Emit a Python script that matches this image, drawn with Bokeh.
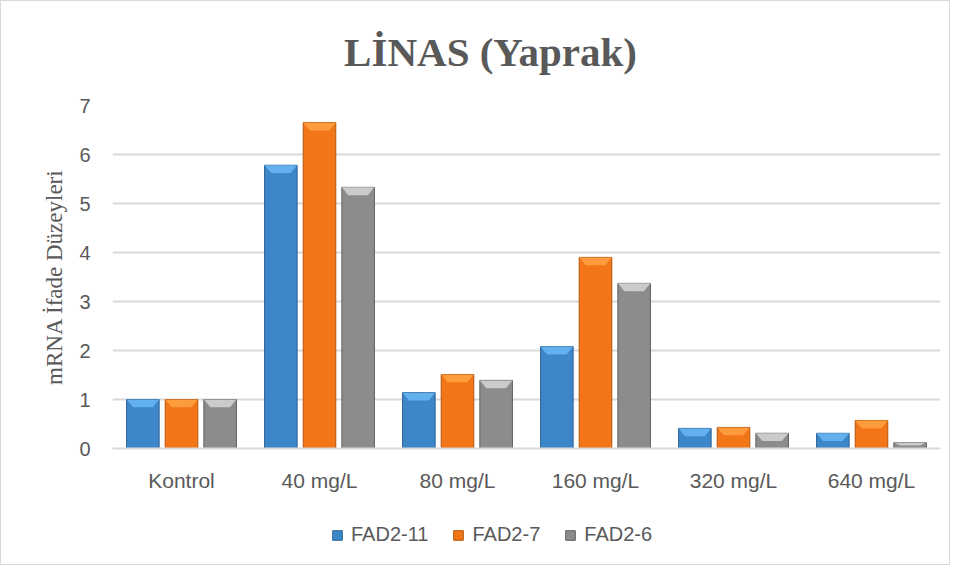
from bokeh.plotting import figure
from bokeh.models import ColumnDataSource, Legend, LegendItem, Range1d, FixedTicker, Label
from bokeh.layouts import column
from bokeh.embed import file_html
from bokeh.resources import INLINE

title_text = "LİNAS (Yaprak)"
categories = ["Kontrol", "40 mg/L", "80 mg/L", "160 mg/L", "320 mg/L", "640 mg/L"]
series_names = ["FAD2-11", "FAD2-7", "FAD2-6"]
fad2_11 = [1.0, 5.78, 1.14, 2.08, 0.41, 0.31]
fad2_7 = [1.0, 6.65, 1.51, 3.90, 0.43, 0.57]
fad2_6 = [1.0, 5.33, 1.39, 3.37, 0.31, 0.12]
y_ticks = [0, 1, 2, 3, 4, 5, 6, 7]

series = [fad2_11, fad2_7, fad2_6]
colors = ["#3D86C8", "#F27518", "#8C8C8C"]
tops = ["#66B6F2", "#FFA040", "#D2D2D2"]
edges = ["#2C6398", "#B4540A", "#606060"]
offsets = [-0.28, 0.0, 0.28]
bar_w = 0.236
bevel = 0.16

centers = [i + 0.5 for i in range(len(categories))]

W = 948
TH = 80

# title strip
tf = figure(x_range=Range1d(0, len(categories)), y_range=Range1d(0, TH), width=W, height=TH,
            output_backend="svg", toolbar_location=None,
            min_border_left=0, min_border_right=0, min_border_top=0, min_border_bottom=0)
tf.axis.visible = False
tf.grid.visible = False
tf.outline_line_color = None
tf.add_layout(Label(x=2.739, y=TH - 50, text=title_text, text_align="center",
                    text_baseline="middle", text_font="Liberation Serif",
                    text_font_style="bold", text_font_size="41px", text_color="#595959"))

# main chart
p = figure(x_range=Range1d(0, len(categories)), y_range=Range1d(0, 7),
           width=W, height=500 - TH, output_backend="svg", toolbar_location=None,
           min_border_left=111, min_border_right=9, min_border_top=24, min_border_bottom=53)

for vals, off, col, top_col, ec in zip(series, offsets, colors, tops, edges):
    xs = [c + off for c in centers]
    src = ColumnDataSource(dict(x=xs, top=vals))
    p.vbar(x="x", top="top", width=bar_w, source=src,
           fill_color=col, line_color=ec, line_width=1)
    pxs, pys = [], []
    for x, t in zip(xs, vals):
        d = min(bevel, t * 0.5)
        pxs.append([x - bar_w / 2, x + bar_w / 2, x + bar_w * 0.3, x - bar_w * 0.3])
        pys.append([t, t, t - d, t - d])
    p.patches(xs=pxs, ys=pys, fill_color=top_col, line_color=None, fill_alpha=0.9)

p.xaxis.ticker = FixedTicker(ticks=centers)
p.xaxis.major_label_overrides = {c: n for c, n in zip(centers, categories)}
p.yaxis.ticker = y_ticks
p.yaxis.axis_label = "mRNA İfade Düzeyleri"
p.yaxis.axis_label_text_font = "Liberation Serif"
p.yaxis.axis_label_text_font_style = "normal"
p.yaxis.axis_label_text_font_size = "23px"
p.yaxis.axis_label_text_color = "#595959"
p.yaxis.axis_label_standoff = 9
p.yaxis.axis_line_color = None
p.yaxis.major_tick_line_color = None
p.yaxis.minor_tick_line_color = None
p.yaxis.major_label_text_font = "Liberation Sans"
p.yaxis.major_label_text_font_size = "20px"
p.yaxis.major_label_text_color = "#595959"
p.yaxis.major_label_standoff = 16

p.xaxis.axis_line_color = "#D9D9D9"
p.xaxis.axis_line_width = 2
p.xaxis.major_tick_line_color = None
p.xaxis.minor_tick_line_color = None
p.xaxis.major_label_text_font = "Liberation Sans"
p.xaxis.major_label_text_font_size = "21px"
p.xaxis.major_label_text_color = "#595959"
p.xaxis.major_label_standoff = 14

p.xgrid.grid_line_color = None
p.ygrid.grid_line_color = "#D9D9D9"
p.ygrid.grid_line_width = 2
p.outline_line_color = None

# legend strip below the chart
lg = figure(x_range=Range1d(0, 1), y_range=Range1d(0, 1), width=W, height=63,
            output_backend="svg", toolbar_location=None,
            min_border_left=0, min_border_right=0, min_border_top=0, min_border_bottom=0)
lg.axis.visible = False
lg.grid.visible = False
lg.outline_line_color = None
dummies = []
for col, ec in zip(colors, edges):
    dummies.append(lg.vbar(x=[0.5], bottom=[-3], top=[-2], width=0.1,
                           fill_color=col, line_color=ec))
legend = Legend(items=[LegendItem(label=n, renderers=[r]) for n, r in zip(series_names, dummies)],
                orientation="horizontal", location=(219, 18),
                label_text_font="Liberation Sans", label_text_font_size="20px",
                label_text_color="#595959", glyph_width=12, glyph_height=12,
                spacing=24, label_standoff=8, border_line_color=None,
                background_fill_alpha=0, margin=0, padding=4)
lg.add_layout(legend, "center")

layout = column(tf, p, lg, spacing=0, styles={"border": "1px solid #D9D9D9"})
open("out.html", "w").write(file_html(layout, INLINE))
